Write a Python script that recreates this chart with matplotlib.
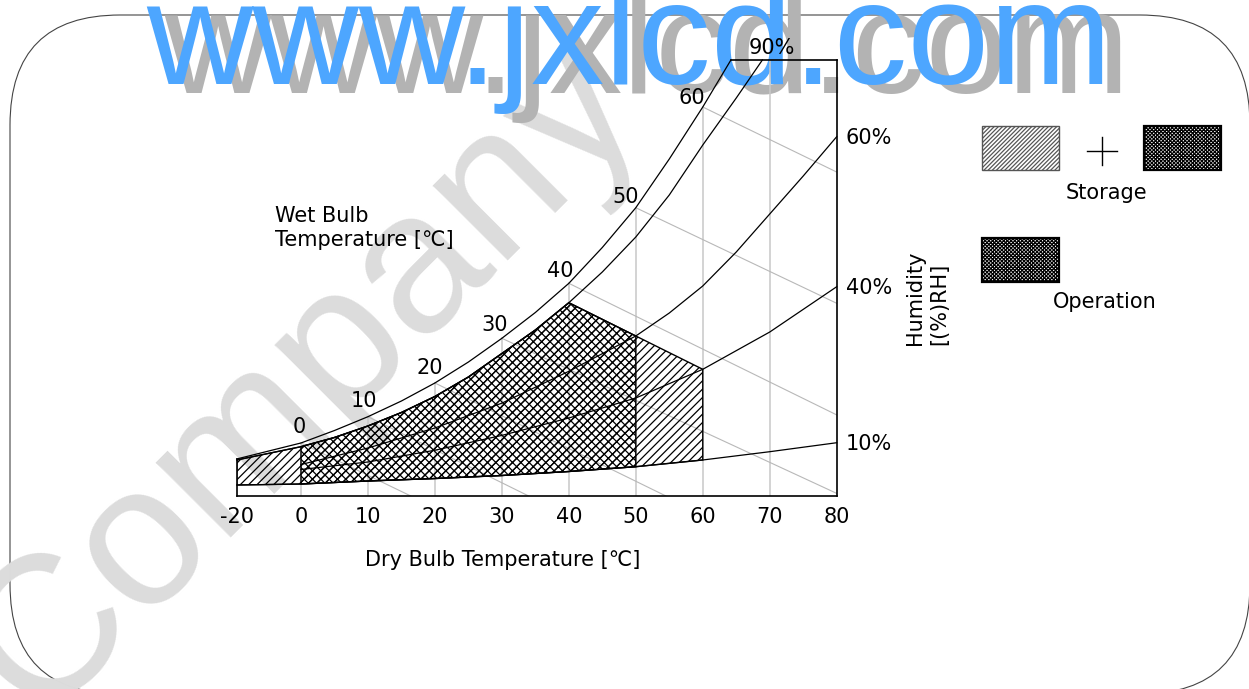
import numpy as np
import matplotlib.pyplot as plt
from matplotlib.patches import Polygon, Rectangle, FancyBboxPatch

plt.rcParams['font.family'] = ['DejaVu Sans', 'Noto Sans CJK KR']
plt.rcParams['hatch.linewidth'] = 0.9

# dry bulb temperature [C] vs chart height (0 = bottom edge, 100 = top edge)
t_sat = [-20, 0, 5, 10, 15, 20, 25, 30, 35, 40, 45, 50, 55, 60, 64.2]
y_sat = [8.49, 12.16, 15.02, 18.19, 21.79, 25.92, 30.73, 36.17, 42.09, 48.78,
         57.00, 66.12, 77.29, 89.22, 100.0]

t_90 = [-20, 0, 5, 10, 15, 20, 25, 30, 35, 40, 45, 50, 55, 60, 65, 68.9]
y_90 = [8.26, 11.31, 13.42, 16.06, 19.15, 22.82, 27.29, 32.68, 38.07, 44.33,
        51.38, 59.40, 69.04, 80.50, 91.28, 100.0]

t_60 = [0, 10, 20, 30, 40, 50, 55, 60, 65, 70, 75, 80]
y_60 = [7.22, 11.01, 15.60, 21.30, 28.60, 36.70, 41.97, 48.17, 55.96, 64.68, 73.39, 82.41]

t_40 = [0, 10, 20, 30, 40, 50, 60, 70, 80]
y_40 = [6.08, 7.80, 10.50, 13.90, 17.89, 22.48, 29.06, 37.61, 48.00]

t_10 = [-20, 0, 10, 20, 30, 40, 50, 60, 70, 80]
y_10 = [2.52, 2.75, 3.44, 4.01, 4.70, 5.62, 6.72, 8.26, 10.16, 12.22]

# wet bulb lines: start on the saturation curve, end on the chart edge
wb_labels = [0, 10, 20, 30, 40, 50, 60]
wb_end_t = [16.4, 34.0, 54.5, 80, 80, 80, 80]
wb_end_y = [0, 0, 0, 0.6, 18.6, 44.2, 74.3]

x_ticks = [-20, 0, 10, 20, 30, 40, 50, 60, 70, 80]
x_tick_labels = ['-20', '0', '10', '20', '30', '40', '50', '60', '70', '80']
grid_t = [0, 10, 20, 30, 40, 50, 60, 70]

W, H = 1249, 689
fig = plt.figure(figsize=(W / 100, H / 100), dpi=100)

# background layer in pixel coordinates
bg = fig.add_axes([0, 0, 1, 1], zorder=0)
bg.set_xlim(0, W)
bg.set_ylim(0, H)
bg.axis('off')


def Y(y):
    # picture rows counted from the top
    return H - y


bg.text(305, Y(380), 'Company', fontsize=145, rotation=45, rotation_mode='anchor',
        ha='center', va='center', color='#dcdcdc', family='Liberation Sans')
bg.add_patch(FancyBboxPatch((10, Y(694)), 1240, 679, boxstyle='round,pad=0,rounding_size=110',
                            fc='none', ec='#444444', lw=0.8))
bg.text(164, Y(93), 'www.jxlcd.com', fontsize=106, family='Liberation Sans',
        color='#b3b3b3', va='baseline', ha='left')
bg.text(146, Y(84), 'www.jxlcd.com', fontsize=106, family='Liberation Sans',
        color='#4da6ff', va='baseline', ha='left')

# legend
bg.add_patch(Rectangle((982, Y(170)), 77, 44, fc='white', ec='#555555', lw=1, hatch='////////'))
bg.add_patch(Rectangle((1144, Y(170)), 77, 44, fc='white', ec='black', lw=1.6, hatch='xxxxxxxxx'))
bg.add_patch(Rectangle((982, Y(282)), 77, 44, fc='white', ec='black', lw=1.6, hatch='xxxxxxxxx'))
bg.plot([1087, 1117], [Y(151), Y(151)], color='black', lw=1)
bg.plot([1102, 1102], [Y(137), Y(165)], color='black', lw=1)
bg.text(1106, Y(193), 'Storage', fontsize=15, ha='center', va='center')
bg.text(1105, Y(302), 'Operation', fontsize=15, ha='center', va='center')

bg.text(927, Y(298), 'Humidity\n[(%)RH]', fontsize=15, rotation=90, ha='center', va='center',
        multialignment='left', linespacing=1.3)
bg.text(275, Y(228), 'Wet Bulb\nTemperature [℃]', fontsize=15, ha='left', va='center',
        linespacing=1.2)
bg.text(503, Y(560), 'Dry Bulb Temperature [℃]', fontsize=15, ha='center', va='center')

# main chart
ax = fig.add_axes([236.7 / W, (H - 496) / H, 600 / W, 436 / H], zorder=1)
ax.set_facecolor('none')


def fwd(t):
    t = np.asarray(t, dtype=float)
    return np.where(t < 0, t * 0.48, t)


def inv(u):
    u = np.asarray(u, dtype=float)
    return np.where(u < 0, u / 0.48, u)


ax.set_xscale('function', functions=(fwd, inv))
ax.set_xlim(-20, 80)
ax.set_ylim(0, 100)
ax.set_yticks([])
ax.set_xticks(x_ticks)
ax.set_xticklabels(x_tick_labels)
ax.tick_params(axis='x', length=0, pad=8, labelsize=15)
for s in ['top', 'left']:
    ax.spines[s].set_visible(False)
for s in ['bottom', 'right']:
    ax.spines[s].set_linewidth(1.2)

# grid lines
for t in grid_t:
    top = y_sat[t_sat.index(t)] if t in t_sat else 100
    ax.plot([t, t], [0, top], color='#c8c8c8', lw=1.1, zorder=1)

for t, te, ye in zip(wb_labels, wb_end_t, wb_end_y):
    ax.plot([t, te], [y_sat[t_sat.index(t)], ye], color='#b8b8b8', lw=0.8, zorder=1)

# storage / operation regions
i40 = t_90.index(40)
storage = ([(t, y) for t, y in zip(t_10, y_10) if t <= 60]
           + [(60, y_40[t_40.index(60)])]
           + [(t, y) for t, y in zip(t_90[:i40 + 1], y_90[:i40 + 1])][::-1])
operation = ([(t, y) for t, y in zip(t_10, y_10) if 0 <= t <= 50]
             + [(50, y_60[t_60.index(50)])]
             + [(t, y) for t, y in zip(t_90[1:i40 + 1], y_90[1:i40 + 1])][::-1])
ax.add_patch(Polygon(storage, closed=True, fc='none', ec='black', lw=1.0, hatch='////', zorder=2))
ax.add_patch(Polygon(operation, closed=True, fc='none', ec='black', lw=1.0, hatch='xxxx', zorder=2))

# humidity curves
for tt, yy in [(t_sat, y_sat), (t_90, y_90), (t_60, y_60), (t_40, y_40), (t_10, y_10)]:
    ax.plot(tt, yy, color='black', lw=0.9, zorder=3, clip_on=False)

# chart frame pieces
ax.plot([t_sat[-1], 80], [100, 100], color='black', lw=1.2, clip_on=False, zorder=3)
ax.plot([-20, -20], [0, y_sat[0]], color='black', lw=1.2, clip_on=False, zorder=3)

# RH labels
ax.annotate('90%', (t_90[-1], 100), xytext=(9, 12), textcoords='offset pixels',
            ha='center', va='center', fontsize=15)
for lab, yy in [('60%', y_60), ('40%', y_40), ('10%', y_10)]:
    ax.annotate(lab, (80, yy[-1]), xytext=(9, -1), textcoords='offset pixels',
                ha='left', va='center', fontsize=15)

# wet bulb labels along the saturation curve
pts = ax.transData.transform(np.column_stack([t_sat, y_sat]))
for t in wb_labels:
    i = t_sat.index(t)
    d = pts[i + 1] - pts[i - 1]
    d = d / np.hypot(d[0], d[1])
    off = np.array([-d[1], d[0]]) * 17 + np.array([3, 0])
    ax.annotate(str(t), (t, y_sat[i]), xytext=off, textcoords='offset pixels',
                ha='center', va='center', fontsize=15)

fig.savefig('out.png', dpi=100)
